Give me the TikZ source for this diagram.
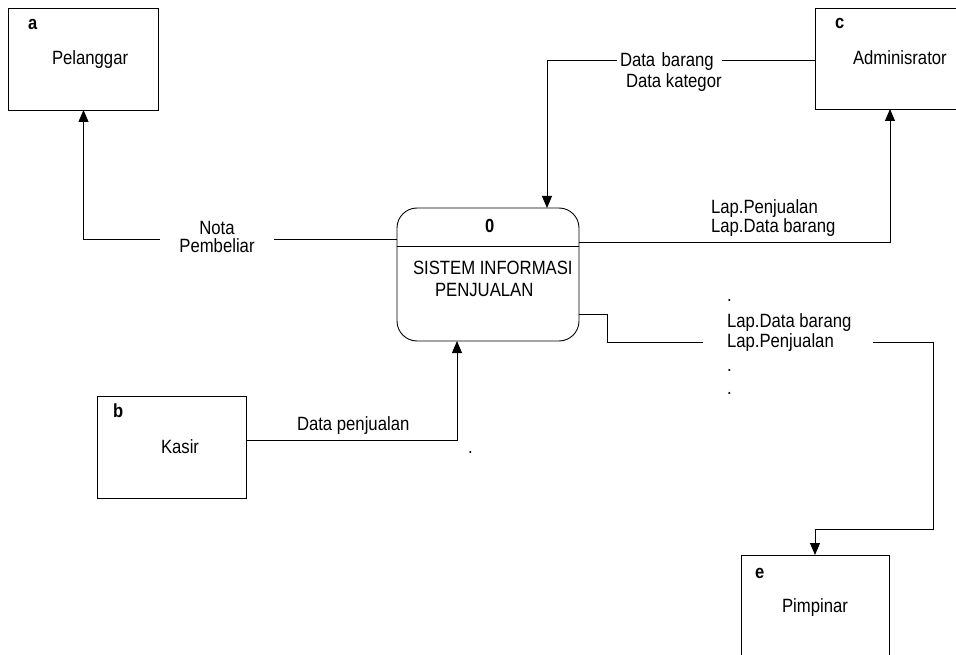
\documentclass[tikz,border=0pt]{standalone}
\usepackage{fontspec}
\setmainfont{Liberation Sans}[FakeStretch=0.87]
\usetikzlibrary{arrows.meta,calc}
\begin{document}
\begin{tikzpicture}[x=1pt,y=-1pt,
  every node/.style={inner sep=0pt, outer sep=0pt},
  ent/.style={draw=black, line width=0.9pt, rectangle},
  txt/.style={anchor=base west, font=\fontsize{19.2}{20.5}\selectfont, text=black},
  tag/.style={anchor=base west, font=\fontsize{19}{20}\selectfont\bfseries, text=black},
  flow/.style={line width=0.9pt, -{Triangle[length=12pt,width=10pt]}},
  gap/.style={fill=white, inner ysep=1pt}]
\useasboundingbox (0,0) rectangle (956,655);

% external entities
\node[ent, minimum width=150, minimum height=102] (pel) at (83.5,59) {};
\node[ent, minimum width=150, minimum height=101] (adm) at (890,58.5) {};
\node[ent, minimum width=149, minimum height=102] (kas) at (171.5,447) {};
\node[ent, minimum width=148, minimum height=102] (pim) at (815,606) {};

% process
\node[ent, rounded corners=20pt, minimum width=182, minimum height=133] (proc) at (488,274.5) {};
\draw[line width=0.9pt] ($(proc.north west)+(0,38)$) -- ($(proc.north east)+(0,38)$);

% entity texts
\node[tag] (ta) at (28,30) {a};
\node[txt] (tpel) at (52,65) {Pelanggar};
\node[tag] (tc) at (835,29) {c};
\node[txt] (tadm) at (853,65) {Adminisrator};
\node[tag] (tb) at (113,417) {b};
\node[txt] (tkas) at (161,453) {Kasir};
\node[tag] (te) at (755,578) {e};
\node[txt] (tpim) at (782,612) {Pimpinar};
\node[tag] (t0) at (485,233) {0};
\node[txt] (tp1) at (413,274) {SISTEM INFORMASI};
\node[txt] (tp2) at (435,296) {PENJUALAN};

% data flows
\draw[flow] ($(proc.north west)+(0,31)$) -| (pel.south);
\draw[flow] ($(adm.north west)+(0,52)$) -| ($(proc.north)+(59,0)$);
\draw[flow] ($(proc.north east)+(0,34)$) -| (adm.south);
\draw[flow] ($(proc.north east)+(0,106)$) -- ++(28,0) -- ++(0,28) -- ++(326,0) -- ++(0,187) -| (pim.north);
\draw[flow] ($(kas.north east)+(0,44)$) -| ($(proc.south)+(-31,0)$);

% flow labels
\node[txt, gap, anchor=base, align=center, text width=100pt, inner xsep=7pt,
      font=\fontsize{19.2}{18}\selectfont] (lnota) at (217,235) {Nota\\Pembeliar};
\node[txt, gap, align=left, text width=99pt, inner xsep=3pt, anchor=base west] (ldb) at (617,67) {Data barang};
\node[txt] (ldk) at (626,88) {Data kategor};
\node[txt] (llp1) at (711,214) {Lap.Penjualan};
\node[txt] (lld1) at (711,233) {Lap.Data barang};
\node[txt, gap, align=left, text width=122pt, inner xsep=24pt, anchor=base west] (llp2) at (703,347) {Lap.Penjualan};
\node[txt] (lld2) at (727,327) {Lap.Data barang};
\node[txt] (d1) at (727,301) {.};
\node[txt] (d2) at (727,371) {.};
\node[txt] (d3) at (727,394) {.};
\node[txt] (ldp) at (297,430) {Data penjualan};
\node[txt] (d4) at (468,453) {.};
\end{tikzpicture}
\end{document}
